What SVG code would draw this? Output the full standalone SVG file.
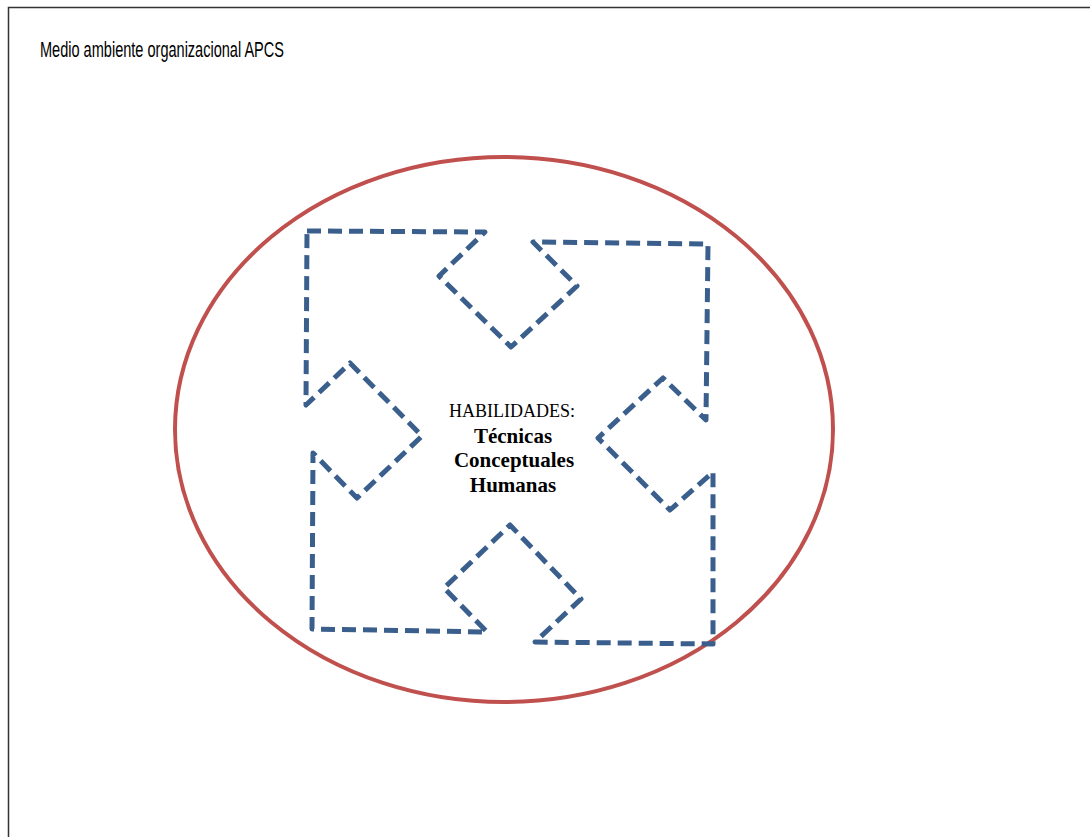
<svg xmlns="http://www.w3.org/2000/svg" width="1090" height="837" viewBox="0 0 1090 837">
  <style>
    .frame { stroke: #333; stroke-width: 1.5; fill: none; }
    .env { stroke: #C0504D; stroke-width: 4; fill: none; }
    .skills { stroke: #3A5F8D; stroke-width: 5; fill: none; stroke-dasharray: 14 7; stroke-linejoin: round; stroke-linecap: butt; }
    .title { font-family: "Liberation Sans", Arial, sans-serif; font-size: 22px; fill: #000; }
    .label { font-family: "Liberation Serif", "Times New Roman", serif; fill: #000; text-anchor: middle; }
  </style>
  <rect width="1090" height="837" fill="#fff"/>
  <!-- page frame: top and left rules -->
  <g id="frame">
    <path class="frame" d="M8.5,837 V7.5 H1090"/>
  </g>
  <text class="title" x="40" y="57" textLength="244" lengthAdjust="spacingAndGlyphs">Medio ambiente organizacional APCS</text>
  <!-- organisational environment -->
  <g id="environment">
    <ellipse class="env" cx="504" cy="429.5" rx="329" ry="272.5"/>
  </g>
  <!-- four-way arrow outline around the skills -->
  <g id="connectors">
    <path class="skills" d="M307,231 L485,232 L439,276 L511,347 L577,286 L533,242 L708,244 L706,420 L663,378 L598,438 L670,510 L713,472 L713,644 L535,642 L581,599 L510,525 L444,588 L487,632 L312,629 L313,453 L357,498 L422,436 L350,363 L306,405 Z"/>
  </g>
  <g id="skills-label">
    <text class="label" x="512" y="417" font-size="18">HABILIDADES:</text>
    <text class="label" x="513" y="443" font-size="21" font-weight="bold">Técnicas</text>
    <text class="label" x="514" y="467" font-size="21" font-weight="bold">Conceptuales</text>
    <text class="label" x="513" y="492" font-size="21" font-weight="bold">Humanas</text>
  </g>
</svg>
